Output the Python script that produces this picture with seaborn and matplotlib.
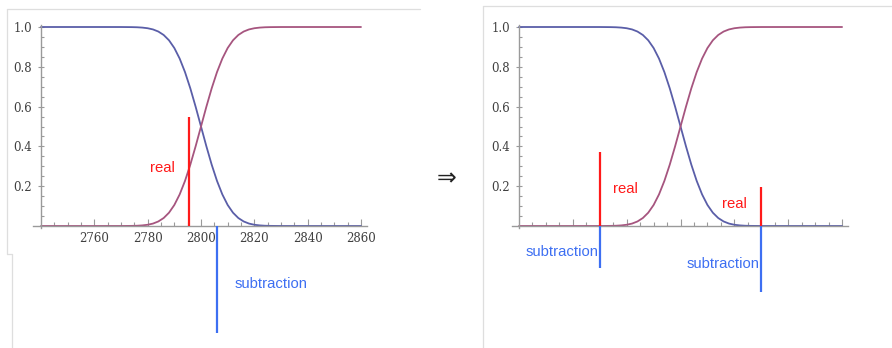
import matplotlib
matplotlib.use("Agg")
import matplotlib.pyplot as plt
import seaborn as sns
from matplotlib.lines import Line2D
from matplotlib.ticker import FixedLocator, NullFormatter

sns.set_style("white")

# ---------------- data ----------------
curve_x = [2740, 2750, 2760, 2770,
           2774, 2776, 2778, 2780, 2782, 2784, 2786, 2788, 2790, 2792, 2794,
           2796, 2798, 2800, 2802, 2804, 2806, 2808, 2810, 2812, 2814, 2816,
           2818, 2820, 2822, 2824, 2826,
           2830, 2840, 2850, 2860]
rising = [0, 0, 0, 0.0001,
          0.0006, 0.0013, 0.0030, 0.0062, 0.0122, 0.0228, 0.0401, 0.0668, 0.1056,
          0.1587, 0.2266, 0.3085, 0.4013, 0.5, 0.5987, 0.6915, 0.7734, 0.8413,
          0.8944, 0.9332, 0.9599, 0.9772, 0.9878, 0.9938, 0.9970, 0.9987, 0.9994,
          0.9999, 1, 1, 1]
falling = [1, 1, 1, 0.9999,
           0.9994, 0.9987, 0.9970, 0.9938, 0.9878, 0.9772, 0.9599, 0.9332, 0.8944,
           0.8413, 0.7734, 0.6915, 0.5987, 0.5, 0.4013, 0.3085, 0.2266, 0.1587,
           0.1056, 0.0668, 0.0401, 0.0228, 0.0122, 0.0062, 0.0030, 0.0013, 0.0006,
           0.0001, 0, 0, 0]

x_ticks = [2760, 2780, 2800, 2820, 2840, 2860]
y_ticks = [0.2, 0.4, 0.6, 0.8, 1.0]
y_tick_labels = ["0.2", "0.4", "0.6", "0.8", "1.0"]

# left panel markers
left_real_x = [2795.4]
left_real_top = [0.55]
left_sub_x = [2805.9]
left_sub_bottom = [-0.54]
left_label_text = ["real", "subtraction"]
left_label_x = [2785.7, 2812.7]
left_label_y = [0.29, -0.29]

# right panel markers
right_real_x = [2770, 2830]
right_real_top = [0.37, 0.195]
right_sub_x = [2770, 2830]
right_sub_bottom = [-0.21, -0.33]
right_label_text = ["real", "real", "subtraction", "subtraction"]
right_label_x = [2779.4, 2820.2, 2756.0, 2815.8]
right_label_y = [0.186, 0.11, -0.131, -0.191]

# ---------------- style ----------------
C_FALL = "#5a5ea8"
C_RISE = "#a6557f"
C_RED = "#ff1a1a"
C_BLUE = "#3d6ff2"
C_AXIS = "#9a9a9a"
C_TICKTXT = "#404040"
C_FRAME = "#dedede"

W, H = 892, 348
fig = plt.figure(figsize=(W / 100, H / 100), dpi=100)

x_minor = [2740 + 5 * i for i in range(1, 24) if (5 * i) % 20 != 0]
y_minor = [round(0.05 * i, 2) for i in range(1, 20) if i % 4 != 0]


def px_axes(x0, x1):
    return fig.add_axes([x0 / W, 0, (x1 - x0) / W, 1])


def style_axes(ax, xlim, show_xlabels):
    ax.set_xlim(*xlim)
    ax.set_ylim(-0.6131, 1.1357)
    ax.patch.set_alpha(0)
    for s in ("top", "right"):
        ax.spines[s].set_visible(False)
    ax.spines["left"].set_position(("data", 2740))
    ax.spines["left"].set_bounds(-0.01, 1.01)
    ax.spines["bottom"].set_position(("data", 0))
    ax.spines["bottom"].set_bounds(*xlim)
    for s in ("left", "bottom"):
        ax.spines[s].set_color(C_AXIS)
        ax.spines[s].set_linewidth(1.0)
    ax.xaxis.set_major_locator(FixedLocator(x_ticks))
    ax.xaxis.set_minor_locator(FixedLocator(x_minor))
    ax.yaxis.set_major_locator(FixedLocator(y_ticks))
    ax.yaxis.set_minor_locator(FixedLocator(y_minor))
    ax.set_yticklabels(y_tick_labels)
    if show_xlabels:
        ax.set_xticklabels([str(t) for t in x_ticks])
    else:
        ax.xaxis.set_major_formatter(NullFormatter())
    ax.tick_params(which="both", bottom=True, left=True, top=False, right=False)
    ax.tick_params(axis="x", which="major", direction="in", length=5, width=0.8,
                   color=C_AXIS, pad=4, labelsize=8.5, labelcolor=C_TICKTXT)
    ax.tick_params(axis="x", which="minor", direction="in", length=3, width=0.8,
                   color=C_AXIS)
    ax.tick_params(axis="y", which="major", direction="inout", length=5, width=0.8,
                   color=C_AXIS, pad=4, labelsize=8.5, labelcolor=C_TICKTXT)
    ax.tick_params(axis="y", which="minor", direction="in", length=2.5, width=0.8,
                   color=C_AXIS)
    for lab in ax.get_xticklabels() + ax.get_yticklabels():
        lab.set_fontfamily("DejaVu Serif")
    ax.set_xlabel("")
    ax.set_ylabel("")


def draw_curves(ax):
    sns.lineplot(x=curve_x, y=falling, ax=ax, color=C_FALL, linewidth=1.3)
    sns.lineplot(x=curve_x, y=rising, ax=ax, color=C_RISE, linewidth=1.3)


# ---------------- left panel ----------------
axL = px_axes(33, 367)
draw_curves(axL)
style_axes(axL, (2737.0, 2862.25), True)
axL.vlines(left_real_x, 0, left_real_top, color=C_RED, linewidth=1.6, zorder=5)
axL.vlines(left_sub_x, left_sub_bottom, 0, color=C_BLUE, linewidth=1.6, zorder=5)
for t, x, y in zip(left_label_text, left_label_x, left_label_y):
    col = C_RED if t == "real" else C_BLUE
    ha = "center" if t == "real" else "left"
    axL.text(x, y, t, color=col, ha=ha, va="center", fontsize=10.7,
             family="Liberation Sans")

# ---------------- right panel ----------------
axR = px_axes(512, 848)
draw_curves(axR)
style_axes(axR, (2737.4, 2862.2), False)
axR.vlines(right_real_x, 0, right_real_top, color=C_RED, linewidth=1.6, zorder=5)
axR.vlines(right_sub_x, right_sub_bottom, 0, color=C_BLUE, linewidth=1.6, zorder=5)
for t, x, y in zip(right_label_text, right_label_x, right_label_y):
    col = C_RED if t == "real" else C_BLUE
    axR.text(x, y, t, color=col, ha="center", va="center", fontsize=10.7,
             family="Liberation Sans")

# ---------------- arrow & frames ----------------
fig.text(447 / W, 1 - 178 / H, "\u21d2", ha="center", va="center",
         fontsize=17, color="#222222", family="DejaVu Sans")


def fline(xs, ys):
    fig.add_artist(Line2D([x / W for x in xs], [1 - y / H for y in ys],
                          transform=fig.transFigure, color=C_FRAME, linewidth=0.9))


fline([7, 420], [9, 9])
fline([7, 7], [9, 254])
fline([7, 12], [254, 254])
fline([12, 12], [254, 348])
fline([483, 892], [6, 6])
fline([483, 483], [6, 348])

fig.savefig("out.png", dpi=100)
